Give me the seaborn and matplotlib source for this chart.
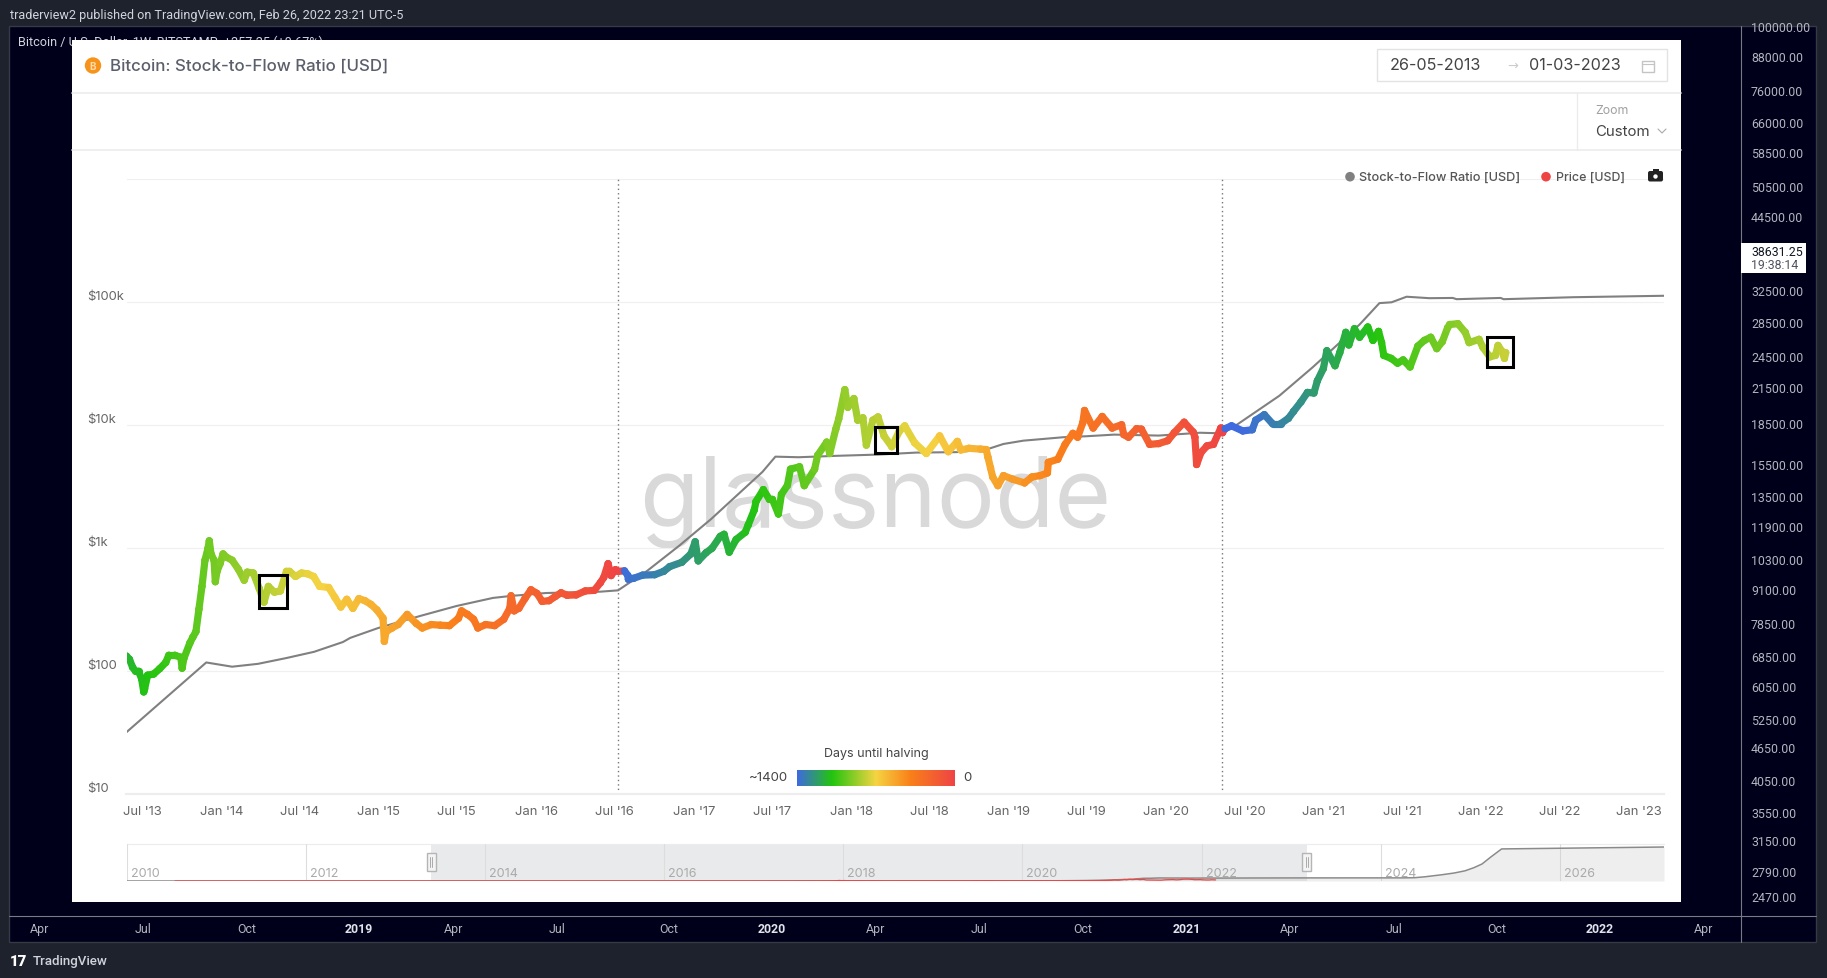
import matplotlib
matplotlib.use("Agg")
import matplotlib.pyplot as plt
import matplotlib.dates as mdates
from matplotlib.collections import LineCollection
from matplotlib.colors import LinearSegmentedColormap, Normalize
from matplotlib.patches import Rectangle, Circle, FancyBboxPatch
import numpy as np
import pandas as pd
import seaborn as sns

# ---------- data ----------
price_dates = [
 "2013-05-26","2013-06-02","2013-06-09","2013-06-16","2013-06-23","2013-06-30","2013-07-05","2013-07-07","2013-07-14","2013-07-28",
 "2013-08-11","2013-08-25","2013-09-01","2013-09-15","2013-09-29","2013-10-02","2013-10-06","2013-10-20","2013-10-27","2013-11-03",
 "2013-11-10","2013-11-17","2013-11-24","2013-12-01","2013-12-04","2013-12-08","2013-12-15","2013-12-18","2013-12-22","2013-12-29",
 "2014-01-05","2014-01-12","2014-01-26","2014-02-09","2014-02-23","2014-03-02","2014-03-16","2014-03-30","2014-04-10","2014-04-20",
 "2014-05-04","2014-05-18","2014-06-01","2014-06-08","2014-06-22","2014-07-06","2014-07-20","2014-08-03","2014-08-17","2014-09-07",
 "2014-09-21","2014-10-05","2014-10-19","2014-11-02","2014-11-16","2014-11-30","2014-12-14","2014-12-28","2015-01-11","2015-01-14",
 "2015-01-18","2015-02-01","2015-02-15","2015-03-08","2015-03-29","2015-04-12","2015-05-03","2015-05-24","2015-06-14","2015-07-05",
 "2015-07-12","2015-07-26","2015-08-09","2015-08-19","2015-09-06","2015-09-27","2015-10-18","2015-11-01","2015-11-04","2015-11-11",
 "2015-11-22","2015-12-06","2015-12-20","2016-01-03","2016-01-15","2016-01-31","2016-02-14","2016-02-28","2016-03-13","2016-04-03",
 "2016-04-24","2016-05-15","2016-05-29","2016-06-06","2016-06-16","2016-06-23","2016-07-03","2016-07-09","2016-07-24","2016-08-01",
 "2016-08-02","2016-08-14","2016-09-04","2016-10-02","2016-10-23","2016-11-06","2016-12-04","2016-12-25","2017-01-04","2017-01-11",
 "2017-01-29","2017-02-12","2017-03-03","2017-03-12","2017-03-24","2017-04-09","2017-04-30","2017-05-07","2017-05-21","2017-05-25",
 "2017-06-11","2017-06-25","2017-07-02","2017-07-16","2017-07-23","2017-08-06","2017-08-13","2017-09-03","2017-09-14","2017-10-08",
 "2017-10-15","2017-11-05","2017-11-12","2017-11-26","2017-12-03","2017-12-17","2017-12-24","2018-01-07","2018-01-16","2018-01-28",
 "2018-02-05","2018-02-20","2018-03-04","2018-03-18","2018-04-05","2018-04-22","2018-05-05","2018-05-28","2018-06-24","2018-07-25",
 "2018-08-14","2018-09-04","2018-09-12","2018-10-01","2018-10-28","2018-11-10","2018-11-14","2018-11-20","2018-11-25","2018-12-07",
 "2018-12-20","2019-01-10","2019-02-07","2019-02-24","2019-03-15","2019-04-01","2019-04-03","2019-04-25","2019-05-12","2019-05-30",
 "2019-06-10","2019-06-22","2019-06-26","2019-07-16","2019-08-06","2019-08-29","2019-09-20","2019-09-25","2019-10-06","2019-10-25",
 "2019-11-05","2019-11-24","2019-12-15","2020-01-05","2020-01-20","2020-02-12","2020-03-04","2020-03-08","2020-03-12","2020-03-22",
 "2020-04-05","2020-04-20","2020-05-07","2020-05-11","2020-05-17","2020-06-01","2020-06-27","2020-07-19","2020-07-27","2020-08-16",
 "2020-09-04","2020-09-23","2020-10-11","2020-10-23","2020-11-09","2020-11-24","2020-12-09","2020-12-17","2020-12-31","2021-01-08",
 "2021-01-27","2021-02-07","2021-02-14","2021-02-21","2021-02-28","2021-03-13","2021-03-25","2021-04-13","2021-04-25","2021-05-08",
 "2021-05-15","2021-05-20","2021-06-06","2021-06-21","2021-07-04","2021-07-20","2021-08-07","2021-08-22","2021-09-06","2021-09-20",
 "2021-10-03","2021-10-15","2021-10-20","2021-11-08","2021-11-25","2021-12-04","2021-12-27","2022-01-05","2022-01-21","2022-02-03",
 "2022-02-09","2022-02-18","2022-02-24","2022-02-27",
]
price_usd = [
 133,125,108,100,100,87,68,72,93,95,
 105,118,135,135,130,106,127,170,190,210,
 320,490,800,1000,1150,900,800,535,650,750,
 900,850,800,680,550,640,630,470,365,490,
 440,450,650,650,590,630,620,590,490,480,
 400,333,385,325,390,375,350,315,270,175,
 210,225,240,290,245,225,240,237,235,270,
 310,290,265,225,240,235,265,325,411,310,
 325,390,460,430,370,375,405,435,415,418,
 450,455,525,580,750,600,670,650,655,600,
 560,570,605,610,650,710,770,900,1130,790,
 920,1000,1250,1300,930,1180,1350,1550,2050,2400,
 3000,2500,2500,1900,2750,3250,4400,4600,3230,4400,
 5700,7300,5900,9300,11300,19500,14000,16500,11000,11500,
 6900,11000,11700,8200,6700,8900,9900,7200,5900,8200,
 6100,7400,6300,6500,6400,6350,5500,4500,3800,3230,
 3900,3650,3400,3800,3900,4100,5000,5300,7000,8600,
 8000,10500,13200,9500,11800,9500,10100,8400,8000,9400,
 9300,7000,7100,7500,8700,10600,8800,8000,4800,6000,
 6800,7000,9500,8700,9400,9900,9000,9200,11000,12200,
 10300,10300,11400,13000,15500,18500,18300,23000,29000,40400,
 30500,39000,47000,57000,45000,61000,52000,63000,49000,58000,
 47000,37000,35000,32000,34000,29800,44000,49000,52000,42000,
 48000,62000,66000,67000,57000,47000,50000,43000,36000,37000,
 44600,40000,35000,39000,
]
s2f_dates = [
 "2013-05-26","2013-11-27","2014-01-26","2014-03-27","2014-05-31","2014-08-04","2014-10-10","2014-10-27","2014-12-31","2015-04-09",
 "2015-07-01","2015-09-23","2015-11-04","2016-01-24","2016-05-29","2016-07-09","2016-09-15","2016-11-28","2017-02-10","2017-06-09",
 "2017-07-09","2017-09-01","2017-11-30","2018-03-03","2018-06-01","2018-09-02","2018-11-13","2018-12-20","2019-02-04","2019-05-08",
 "2019-07-01","2019-09-03","2019-12-15","2020-03-20","2020-05-11","2020-06-15","2020-09-20","2020-12-06","2021-03-25","2021-05-10",
 "2021-06-07","2021-07-12","2021-09-03","2021-10-27","2021-11-05","2022-02-15","2022-02-22","2022-08-03","2023-03-01",
]
s2f_usd = [
 32,118,109,115,128,144,173,187,225,283,
 340,395,410,433,444,455,657,1050,1730,4180,
 5560,5500,5650,5780,6000,6050,6400,7050,7500,8000,
 8150,8400,8250,8700,8600,10200,17400,29600,66000,98500,
 100000,111000,108000,108500,106000,108500,106000,110000,113000,
]
nav_s2f_future_dates = ["2024-04-01","2024-05-18","2024-07-01","2024-09-08","2024-10-27","2024-12-10","2025-01-15","2025-02-17","2025-03-25","2025-05-08","2027-03-01"]
nav_s2f_future_usd = [114000,120000,155000,230000,292000,372000,486000,620000,876000,1170000,1240000]
nav_price_early_dates = ["2010-07-18","2011-06-08","2012-01-01","2013-01-01"]
nav_price_early_usd = [0.06,30,5,13]

halving_dates = ["2016-07-09","2020-05-11","2024-04-20"]
shown_halvings = ["2016-07-09","2020-05-11"]
x_tick_dates = ["2013-07-01","2014-01-01","2014-07-01","2015-01-01","2015-07-01","2016-01-01","2016-07-01","2017-01-01","2017-07-01","2018-01-01",
 "2018-07-01","2019-01-01","2019-07-01","2020-01-01","2020-07-01","2021-01-01","2021-07-01","2022-01-01","2022-07-01","2023-01-01"]
x_tick_labels = ["Jul '13","Jan '14","Jul '14","Jan '15","Jul '15","Jan '16","Jul '16","Jan '17","Jul '17","Jan '18",
 "Jul '18","Jan '19","Jul '19","Jan '20","Jul '20","Jan '21","Jul '21","Jan '22","Jul '22","Jan '23"]
y_ticks = [10,100,1000,10000,100000,1000000]
y_tick_labels = ["$10","$100","$1k","$10k","$100k",""]
nav_years = ["2010","2012","2014","2016","2018","2020","2022","2024","2026"]
right_axis_labels = ["100000.00","88000.00","76000.00","66000.00","58500.00","50500.00","44500.00","32500.00","28500.00","24500.00",
 "21500.00","18500.00","15500.00","13500.00","11900.00","10300.00","9100.00","7850.00","6850.00","6050.00","5250.00","4650.00",
 "4050.00","3550.00","3150.00","2790.00","2470.00"]
right_axis_y = [28,59,92,125,155,189,219,293,325,359,390,426,467,499,529,562,592,626,659,689,722,750,783,815,843,874,899]
time_labels = ["Apr","Jul","Oct","2019","Apr","Jul","Oct","2020","Apr","Jul","Oct","2021","Apr","Jul","Oct","2022","Apr"]
time_x = [40,143,247,358.5,454,557,669,772,876,979,1083,1187,1290,1393.5,1497,1600,1704]

# ---------- setup ----------
W, H = 1827, 979
FONT = "Inter"
sns.set_theme(style="white", rc={"font.family": FONT})
fig = plt.figure(figsize=(W/100, H/100), dpi=100, facecolor="#1e222d")

def px_axes(z):
    a = fig.add_axes([0, 0, 1, 1], zorder=z, facecolor="none")
    a.set_xlim(0, W); a.set_ylim(H, 0); a.axis("off")
    return a

chrome = px_axes(0)
top = px_axes(5)
PT = 72/100  # px to pt

def rect(a, x0, y0, x1, y1, **kw):
    a.add_patch(Rectangle((x0, y0), x1-x0, y1-y0, **kw))

def label(a, x, y, s, size, color, ha="left", **kw):
    a.text(x, y, s, fontsize=size*PT, color=color, ha=ha, va="center", **kw)

# TradingView chrome
rect(chrome, 9, 27, 1816, 943, fc="#00001a", ec="#363a45", lw=1, zorder=1)
label(chrome, 10, 15, "traderview2 published on TradingView.com, Feb 26, 2022 23:21 UTC-5", 12.6, "#d1d4dc", family="Roboto", zorder=2)
label(chrome, 18.5, 42.5, "Bitcoin / U.S. Dollar, 1W, BITSTAMP  +257.25 (+0.67%)", 12.6, "#d1d4dc", family="Roboto", zorder=2)
chrome.plot([9, 1816], [916.6, 916.6], color="#787b86", lw=0.8, zorder=2)
chrome.plot([1741, 1741], [27, 943], color="#787b86", lw=0.8, zorder=2)
for s, y in zip(right_axis_labels, right_axis_y):
    label(chrome, 1751, y, s, 12.4, "#b2b5be", family="Roboto", zorder=2)
for s, x in zip(time_labels, time_x):
    bold = s.startswith("20")
    label(chrome, x, 930, s, 12.4, "#e0e3eb" if bold else "#b2b5be", ha="center", family="Roboto",
          fontweight="bold" if bold else "normal", zorder=2)
rect(chrome, 1741, 244, 1806, 274, fc="white", ec="none", zorder=3)
label(chrome, 1751, 252, "38631.25", 12.4, "#131722", family="Roboto", zorder=4)
label(chrome, 1751, 265.5, "19:38:14", 12.4, "#50535e", family="Roboto", zorder=4)
label(chrome, 10, 962, "17", 15, "white", fontweight="black", family="Roboto", zorder=2)
label(chrome, 33, 962, "TradingView", 13.4, "#d1d4dc", family="Roboto", fontweight="medium", zorder=2)

# glassnode panel
rect(chrome, 72, 41, 1681, 903, fc="white", ec="none", zorder=5)
for y in (94, 151):
    chrome.plot([72, 1681], [y, y], color="#ececec", lw=1.2, zorder=6)
chrome.plot([1577, 1577], [94, 151], color="#ececec", lw=1, zorder=6)
chrome.add_patch(Circle((93, 66.5), 8.2, fc="#f7931a", ec="none", zorder=6))
label(chrome, 93, 66.5, "B", 10, "#ffd9a8", ha="center", fontweight="bold", zorder=7)
label(chrome, 110, 66, "Bitcoin: Stock-to-Flow Ratio [USD]", 16.9, "#5b5f6b", fontweight="medium", zorder=6)
rect(chrome, 1377, 50, 1667, 82, fc="white", ec="#e3e3e3", lw=1, zorder=6)
label(chrome, 1390, 66, "26-05-2013", 16.2, "#444444", zorder=7)
label(chrome, 1513, 66, "\u2192", 13, "#cccccc", ha="center", family="DejaVu Sans", zorder=7)
label(chrome, 1528.5, 66, "01-03-2023", 16.2, "#444444", zorder=7)
rect(chrome, 1642, 61.5, 1654, 72.5, fc="none", ec="#c4c4c4", lw=1, zorder=7)
chrome.plot([1642, 1654], [65, 65], color="#c4c4c4", lw=0.8, zorder=7)
label(chrome, 1595, 111, "Zoom", 12.4, "#a0a0a0", zorder=6)
label(chrome, 1595, 132, "Custom", 15, "#444444", zorder=6)
chrome.plot([1658, 1662, 1666], [130, 134, 130], color="#aaaaaa", lw=0.8, zorder=6)
chrome.text(875, 502, "glassnode", fontsize=70, color="#d9d9d9", ha="center", va="center", fontweight="normal", family=FONT, zorder=6)

# ---------- main chart ----------
x0, x1, y0, y1 = 126.5, 1664, 180.3, 795.3
ax = fig.add_axes([x0/W, 1-y1/H, (x1-x0)/W, (y1-y0)/H], zorder=2, facecolor="none")

df = pd.DataFrame({"date": pd.to_datetime(price_dates), "price": price_usd})
halvings = pd.to_datetime(halving_dates)
df["days"] = [(halvings[halvings >= d][0] - d).days for d in df["date"]]
cmap = LinearSegmentedColormap.from_list("halving", [
    (0.0, "#ef4444"), (0.28, "#f9801a"), (0.5, "#f5d442"), (0.78, "#22c40f"), (1.0, "#3f6ae0")])
norm = Normalize(0, 1400)
s2f = pd.DataFrame({"date": pd.to_datetime(s2f_dates), "s2f": s2f_usd})

for d in shown_halvings:
    ax.axvline(pd.Timestamp(d), color="#777777", lw=1, ls=(0, (1, 2.2)), zorder=1)
sns.lineplot(data=s2f, x="date", y="s2f", color="#808080", lw=1.5, ax=ax, zorder=2, estimator=None)

xn = mdates.date2num(df["date"])
yv = df["price"].to_numpy(dtype=float)
segs = [[(xn[i], yv[i]), (xn[i+1], yv[i+1])] for i in range(len(xn)-1)]
lc = LineCollection(segs, colors=cmap(norm(df["days"].to_numpy()[:-1])), linewidths=5.2, capstyle="round", zorder=3)
ax.add_collection(lc)
sns.scatterplot(data=df, x="date", y="price", hue="days", hue_norm=norm, palette=cmap, s=27, linewidth=0,
                legend=False, ax=ax, zorder=4)

ax.set_yscale("log")
ax.set_ylim(10, 1e6)
ax.set_xlim(pd.Timestamp("2013-05-26"), pd.Timestamp("2023-03-01"))
ax.set_xlabel(""); ax.set_ylabel("")
for s in ("top", "left", "right"):
    ax.spines[s].set_visible(False)
ax.spines["bottom"].set_color("#ededed"); ax.spines["bottom"].set_linewidth(1.6)
ax.grid(False)
ax.set_axisbelow(True)
ax.yaxis.grid(True, which="major", color="#f0f0f0", lw=0.9)
ax.minorticks_off()
ax.set_xticks(pd.to_datetime(x_tick_dates))
ax.set_xticklabels(x_tick_labels, fontsize=13*PT, color="#666666")
ax.tick_params(axis="x", length=7, width=0.7, color="#ececec", direction="out", pad=0.5)
ax.set_yticks(y_ticks)
ax.set_yticklabels(y_tick_labels, fontsize=13*PT, color="#666666", ha="left", va="bottom")
ax.tick_params(axis="y", length=0, pad=39.5*PT)

# boxes, legends
for bx in [(258.5, 575.5, 287, 609), (875, 428, 897, 454), (1487, 338, 1513, 368)]:
    rect(top, *bx, fc="none", ec="black", lw=2.2)
top.add_patch(Circle((1350, 177.7), 4.8, fc="#808080", ec="none"))
label(top, 1359, 177.7, "Stock-to-Flow Ratio [USD]", 12.7, "#555555", fontweight="medium")
top.add_patch(Circle((1546, 177.7), 4.8, fc="#ef4444", ec="none"))
label(top, 1555.5, 177.7, "Price [USD]", 12.4, "#555555", fontweight="medium")
top.add_patch(FancyBboxPatch((1648, 172), 15, 10.5, boxstyle="round,pad=0,rounding_size=2", fc="#222222", ec="none"))
rect(top, 1652.5, 170, 1658.5, 173, fc="#222222", ec="none")
top.add_patch(Circle((1655.5, 177.5), 2.2, fc="white", ec="none"))
label(top, 876, 754, "Days until halving", 12.5, "#444444", ha="center")
label(top, 788, 778, "~1400", 13.2, "#444444", ha="right")
label(top, 967, 778, "0", 13.2, "#444444", ha="center")
top.imshow(np.linspace(1, 0, 256).reshape(1, -1), cmap=cmap, aspect="auto", extent=(797, 955, 787, 771), zorder=2)
top.set_xlim(0, W); top.set_ylim(H, 0)

# ---------- navigator ----------
nx0, nx1, ny0, ny1 = 126.5, 1664, 845, 882
rect(chrome, 431.4, ny0, 1306.5, ny1, fc="#e9eaeb", ec="none", zorder=6)
nav = fig.add_axes([nx0/W, 1-ny1/H, (nx1-nx0)/W, (ny1-ny0)/H], zorder=2, facecolor="none")
nav_s2f = pd.DataFrame({"date": pd.to_datetime(["2010-01-01"] + s2f_dates + nav_s2f_future_dates),
                        "v": [0] + s2f_usd + nav_s2f_future_usd})
nav_p = pd.DataFrame({"date": pd.to_datetime(nav_price_early_dates + price_dates),
                      "v": nav_price_early_usd + price_usd})
nav.fill_between(nav_s2f["date"], 0, nav_s2f["v"], color="#c8c8c8", alpha=0.3, lw=0)
sns.lineplot(data=nav_s2f, x="date", y="v", color="#8a8a8a", lw=1.1, ax=nav, estimator=None)
sns.lineplot(data=nav_p, x="date", y="v", color="#ef4444", lw=0.9, ax=nav, estimator=None)
nav.set_xlim(pd.Timestamp("2010-01-01"), pd.Timestamp("2027-03-01"))
nav.set_ylim(0, 1350000)
nav.axis("off")
for yr in nav_years:
    d = pd.Timestamp(yr + "-01-01")
    nav.axvline(d, color="#dddddd", lw=0.8, zorder=0)
    nav.annotate(yr, (mdates.date2num(d), 0), xytext=(3, 1.5), textcoords="offset points",
                 fontsize=12.6*PT, color="#aaaaaa", va="bottom", ha="left")
chrome.plot([nx0, nx1], [ny0, ny0], color="#ececec", lw=0.8, zorder=6)
for hx in (431.4, 1306.5):
    rect(top, hx-4.5, 854, hx+4.5, 872, fc="#f4f4f4", ec="#b5b5b5", lw=1)
    top.plot([hx-1, hx-1], [858, 868], color="#aaaaaa", lw=0.7)
    top.plot([hx+1, hx+1], [858, 868], color="#aaaaaa", lw=0.7)

fig.savefig("out.png", dpi=100, facecolor=fig.get_facecolor())
